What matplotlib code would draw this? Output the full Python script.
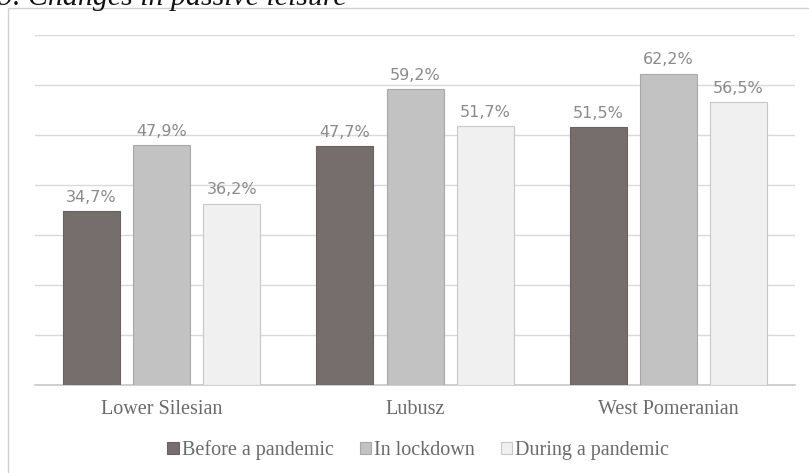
import numpy as np
import matplotlib.pyplot as plt
from matplotlib.patches import Rectangle

# data
regions = ['Lower Silesian', 'Lubusz', 'West Pomeranian']
series = ['Before a pandemic', 'In lockdown', 'During a pandemic']
before = [34.7, 47.7, 51.5]
lockdown = [47.9, 59.2, 62.2]
during = [36.2, 51.7, 56.5]

colors = ['#766d6d', '#c2c2c2', '#f0f0f0']
edges = ['#6a6262', '#a8a8a8', '#c8c8c8']

fig = plt.figure(figsize=(8.09, 4.73), dpi=100)
W, H = 809, 473

# outer chart frame
fig.patches.append(Rectangle((8 / W, -0.1), 1.2, (H - 8) / H + 0.1,
                             transform=fig.transFigure, fill=False,
                             edgecolor='#d0d0d0', lw=1))

# title, cut off at the top like the source
fig.text(-2 / W, 1 - 5 / H, '9. Changes in passive leisure', ha='left', va='baseline',
         fontsize=21.5, style='italic', family='Liberation Serif', color='#111111')

ax = fig.add_axes([35 / W, 88 / H, 760 / W, 350 / H])
x = np.arange(len(regions))
w = 0.225
step = 0.277
for i, vals in enumerate([before, lockdown, during]):
    bars = ax.bar(x + (i - 1) * step, vals, w, color=colors[i], edgecolor=edges[i],
                  linewidth=0.8, label=series[i], zorder=3)
    for b, v in zip(bars, vals):
        ax.text(b.get_x() + b.get_width() / 2, v + 1.3, f'{v:.1f}%'.replace('.', ','),
                ha='center', va='bottom', fontsize=11.5, color='#8a8a8a',
                family='DejaVu Sans', zorder=4)

ax.set_xlim(-0.5, 2.5)
ax.set_ylim(0, 70)
ax.set_yticks(np.arange(0, 71, 10))
ax.yaxis.grid(True, color='#d9d9d9', lw=1, zorder=0)
ax.tick_params(axis='y', left=False, labelleft=False)
ax.tick_params(axis='x', bottom=False, pad=7)
ax.set_xticks(x)
ax.set_xticklabels(regions, family='Liberation Serif', fontsize=14.5, color='#6a6a6a')
for s in ['top', 'right', 'left']:
    ax.spines[s].set_visible(False)
ax.spines['bottom'].set_color('#c8c8c8')
ax.spines['bottom'].set_linewidth(1.2)

leg = fig.legend(loc='center', bbox_to_anchor=(418 / W, 1 - 450 / H), ncol=3, frameon=False,
                 prop={'family': 'Liberation Serif', 'size': 14.5}, handlelength=0.55,
                 handleheight=0.55, handletextpad=0.15, columnspacing=1.3)
for t in leg.get_texts():
    t.set_color('#6a6a6a')

fig.savefig('out.png', dpi=100)
